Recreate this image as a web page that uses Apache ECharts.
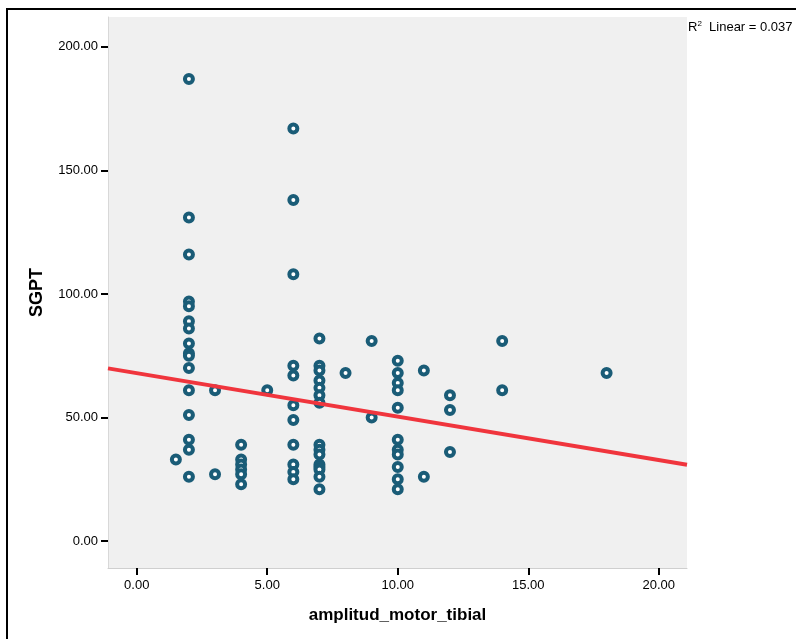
<!DOCTYPE html>
<html>
<head>
<meta charset="utf-8">
<script src="https://cdn.jsdelivr.net/npm/echarts@6/dist/echarts.min.js"></script>
<style>
html,body{margin:0;padding:0;background:#fff;}
#c{width:796px;height:639px;}
</style>
</head>
<body>
<div id="c"></div>
<script>
// amplitud_motor_tibial (x) and SGPT (y) values
const xValues = [
  1.5,
  2,2,2,2,2,2,2,2,2,2,2,2,2,2,2,2,
  3,3,
  4,4,4,4,4,4,
  5,
  6,6,6,6,6,6,6,6,6,6,6,
  7,7,7,7,7,7,7,7,7,7,7,7,7,7,7,
  8,
  9,9,
  10,10,10,10,10,10,10,10,10,10,10,
  11,11,
  12,12,12,
  14,14,
  18
];
const yValues = [
  33,
  187,131,116,97,95,89,86,80,76,75,70,61,51,41,37,26,
  61,27,
  39,33,31,29,27,23,
  61,
  167,138,108,71,67,55,49,39,31,28,25,
  82,71,69,65,62,59,56,39,37,35,31,30,29,26,21,
  68,
  81,50,
  73,68,64,61,54,41,37,35,30,25,21,
  69,26,
  59,53,36,
  81,61,
  68
];
// Fit line end points
const fitX = [-1.10, 21.08];
const fitY = [69.9, 30.9];

const xTicks = [0, 5, 10, 15, 20];
const yTicks = [0, 50, 100, 150, 200];
const r2Text = '0.037';

const points = xValues.map((x, i) => [x, yValues[i]]);
const fitLine = fitX.map((x, i) => [x, fitY[i]]);

const chart = echarts.init(document.getElementById('c'), null, {renderer: 'canvas'});
const font = 'Liberation Sans, Arial, sans-serif';
chart.setOption({
  animation: false,
  backgroundColor: '#ffffff',
  textStyle: {fontFamily: font},
  grid: {
    left: 108, right: 109, top: 17, bottom: 71,
    show: true, backgroundColor: '#f0f0f0', borderWidth: 0,
    containLabel: false, outerBoundsMode: 'none'
  },
  xAxis: {
    type: 'value', min: -1.10, max: 21.08,
    name: 'amplitud_motor_tibial', nameLocation: 'middle', nameGap: 39,
    nameTextStyle: {fontSize: 17, fontWeight: 'bold', color: '#000', fontFamily: font},
    splitLine: {show: false},
    axisLine: {show: true, onZero: false, lineStyle: {color: '#cfcfcf', width: 1}},
    axisTick: {show: true, customValues: xTicks, length: 7, lineStyle: {color: '#000', width: 2}},
    axisLabel: {customValues: xTicks, color: '#000', fontSize: 13, margin: 11,
      formatter: v => v.toFixed(2)}
  },
  yAxis: {
    type: 'value', min: -10.9, max: 212.1,
    name: 'SGPT', nameLocation: 'middle', nameGap: 62, nameRotate: 90,
    nameTextStyle: {fontSize: 18, fontWeight: 'bold', color: '#000', fontFamily: font},
    splitLine: {show: false},
    axisLine: {show: true, onZero: false, lineStyle: {color: '#d8d8d8', width: 1}},
    axisTick: {show: true, customValues: yTicks, length: 7, lineStyle: {color: '#000', width: 2}},
    axisLabel: {customValues: yTicks, color: '#000', fontSize: 13, margin: 10,
      formatter: v => v.toFixed(2)}
  },
  graphic: [
    {type: 'rect', shape: {x: 7, y: 9, width: 900, height: 700},
     style: {fill: 'none', stroke: '#000', lineWidth: 2}, z: 100},
    {type: 'text', left: 688, top: 20,
     style: {
       text: '{a|R}{s|2}{a|  Linear = ' + r2Text + '}',
       rich: {
         a: {fontSize: 13, fill: '#000', fontFamily: font},
         s: {fontSize: 8, fill: '#000', fontFamily: font, verticalAlign: 'top', padding: [0,0,6,0]}
       }
     }, z: 100}
  ],
  series: [
    {
      type: 'scatter', data: points, symbol: 'circle', symbolSize: 8,
      itemStyle: {color: '#ffffff', borderColor: '#1a5c77', borderWidth: 4, opacity: 1},
      z: 2
    },
    {
      type: 'line', data: fitLine, symbol: 'none',
      lineStyle: {color: '#f0353d', width: 4}, z: 3, clip: true
    }
  ]
});
</script>
</body>
</html>
